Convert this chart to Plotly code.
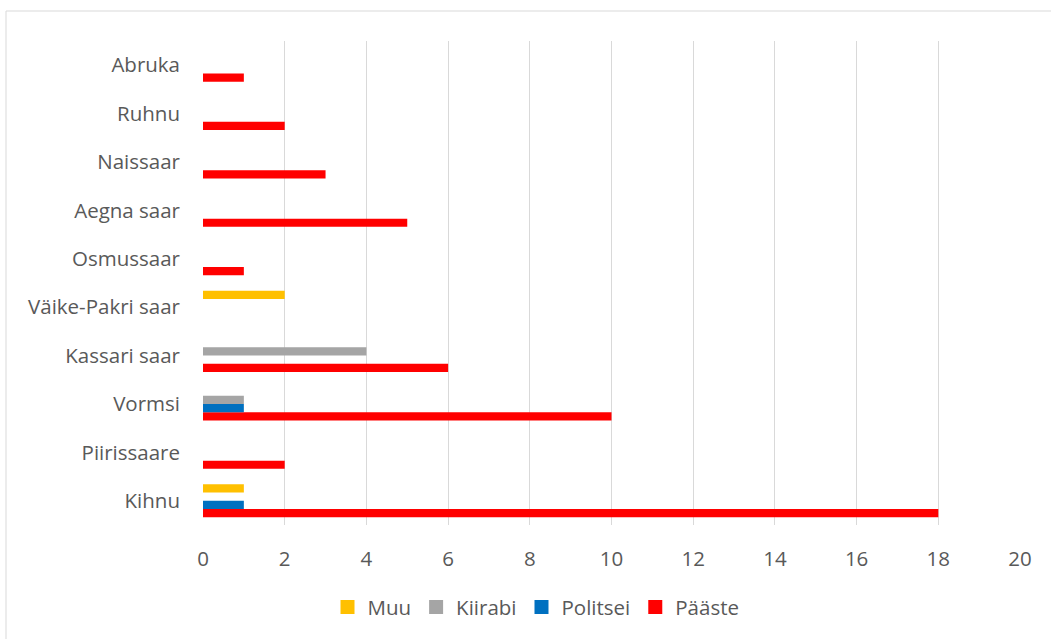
import plotly.graph_objects as go

# Islands, listed bottom to top as they appear on the category axis
islands = ["Kihnu", "Piirissaare", "Vormsi", "Kassari saar", "Väike-Pakri saar",
           "Osmussaar", "Aegna saar", "Naissaar", "Ruhnu", "Abruka"]

paaste = [18, 2, 10, 6, 0, 1, 5, 3, 2, 1]
politsei = [1, 0, 1, 0, 0, 0, 0, 0, 0, 0]
kiirabi = [0, 0, 1, 4, 0, 0, 0, 0, 0, 0]
muu = [1, 0, 0, 0, 2, 0, 0, 0, 0, 0]

x_ticks = [0, 2, 4, 6, 8, 10, 12, 14, 16, 18, 20]

series = [
    ("Pääste", paaste, "#FF0000"),
    ("Politsei", politsei, "#0070C0"),
    ("Kiirabi", kiirabi, "#A5A5A5"),
    ("Muu", muu, "#FFC000"),
]

fig = go.Figure()
for name, vals, color in series:
    fig.add_trace(go.Bar(
        y=islands, x=vals, name=name, orientation="h",
        marker=dict(color=color, line=dict(width=0)),
        legendgroup=name, showlegend=False,
    ))

# Square legend keys
for name, vals, color in series:
    fig.add_trace(go.Scatter(
        x=[None], y=[None], mode="markers", name=name, legendgroup=name,
        marker=dict(symbol="square", size=14, color=color, line=dict(width=0)),
        hoverinfo="skip",
    ))

font_family = "'Open Sans', 'Noto Sans', sans-serif"
text_color = "#595959"
fs = 20.5

fig.update_layout(
    width=1051, height=639,
    margin=dict(l=203, r=31, t=41, b=114),
    paper_bgcolor="white", plot_bgcolor="white",
    barmode="group", bargap=0.32, bargroupgap=0,
    font=dict(family=font_family, size=fs, color=text_color),
    showlegend=True,
    legend=dict(
        orientation="h", traceorder="reversed",
        xref="container", yref="container",
        x=0.51, y=0.05, xanchor="center", yanchor="middle",
        font=dict(size=fs, color=text_color),
        itemwidth=30,
    ),
    xaxis=dict(
        range=[0, 20], tickvals=x_ticks,
        showgrid=True, gridcolor="#D9D9D9", gridwidth=1,
        zeroline=False, showline=False, ticks="",
        ticklabelstandoff=19,
        tickfont=dict(size=fs, color=text_color),
    ),
    yaxis=dict(
        type="category", categoryorder="array", categoryarray=islands,
        showgrid=False, zeroline=False, showline=False, ticks="",
        ticklabelstandoff=22,
        tickfont=dict(size=fs, color=text_color),
    ),
    shapes=[dict(
        type="rect", xref="paper", yref="paper",
        x0=(6 - 203) / 817, x1=(1060 - 203) / 817,
        y0=(525 - 650) / 484, y1=(525 - 11) / 484,
        line=dict(color="#D9D9D9", width=1), layer="below",
    )],
)

fig.write_html("out.html")
